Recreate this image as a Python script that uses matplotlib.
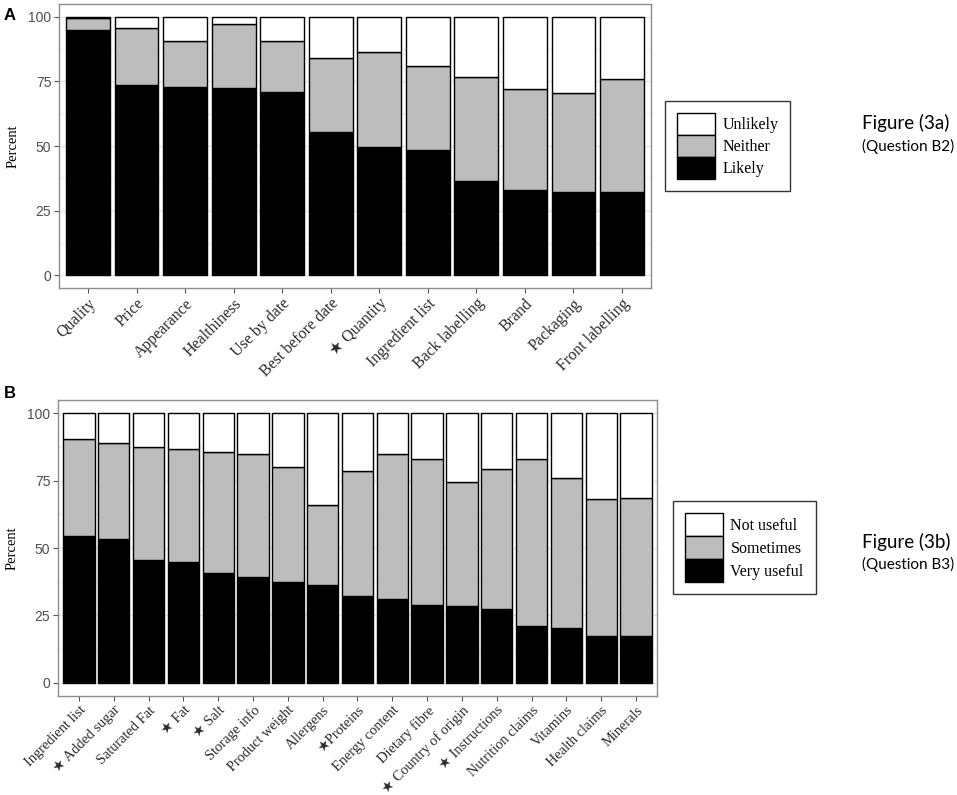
import matplotlib.pyplot as plt
from matplotlib.patches import Patch
from matplotlib.ticker import MultipleLocator
import numpy as np

# Figure 3a - question B2
cats_a = ["Quality", "Price", "Appearance", "Healthiness", "Use by date", "Best before date",
          "\u2605 Quantity", "Ingredient list", "Back labelling", "Brand", "Packaging", "Front labelling"]
likely = [95.1, 73.5, 72.9, 72.4, 70.8, 55.5, 49.6, 48.5, 36.3, 33.1, 32.1, 32.1]
neither = [4.4, 22.1, 17.9, 24.8, 20.0, 28.7, 36.9, 32.6, 40.6, 39.1, 38.5, 43.8]
unlikely = [0.5, 4.4, 9.2, 2.8, 9.2, 15.8, 13.5, 18.9, 23.1, 27.8, 29.4, 24.1]

# Figure 3b - question B3
cats_b = ["Ingredient list", "\u2605 Added sugar", "Saturated Fat", "\u2605 Fat", "\u2605 Salt", "Storage info",
          "Product weight", "Allergens", "\u2605Proteins", "Energy content", "Dietary fibre",
          "\u2605 Country of origin", "\u2605 Instructions", "Nutrition claims", "Vitamins", "Health claims", "Minerals"]
very_useful = [54.5, 53.4, 45.4, 44.9, 40.7, 39.1, 37.5, 36.4, 32.1, 31.1, 29.0, 28.4, 27.4, 20.9, 20.4, 17.2, 17.2]
sometimes = [35.9, 35.5, 42.3, 41.8, 44.9, 46.0, 42.7, 29.5, 46.7, 54.0, 54.0, 46.1, 52.1, 62.1, 55.7, 51.1, 51.4]
not_useful = [9.6, 11.1, 12.3, 13.3, 14.4, 14.9, 19.8, 34.1, 21.2, 14.9, 17.0, 25.5, 20.5, 17.0, 23.9, 31.7, 31.4]

GREY = "#bdbdbd"
SERIF = ["Liberation Serif", "DejaVu Sans"]

W, H = 957, 795
fig = plt.figure(figsize=(W / 100, H / 100), dpi=100)


def stacked_panel(rect, cats, low, mid, top, label_size):
    ax = fig.add_axes(rect)
    x = np.arange(1, len(cats) + 1)
    ax.bar(x, low, width=0.9, color="black", edgecolor="black", linewidth=1, zorder=2)
    ax.bar(x, mid, width=0.9, bottom=low, color=GREY, edgecolor="black", linewidth=1, zorder=2)
    ax.bar(x, top, width=0.9, bottom=np.add(low, mid), color="white", edgecolor="black",
           linewidth=1, zorder=2)
    ax.set_xlim(0.4, len(cats) + 0.6)
    ax.set_ylim(-5, 105)
    ax.yaxis.set_major_locator(MultipleLocator(25))
    ax.yaxis.set_minor_locator(MultipleLocator(12.5))
    ax.grid(True, which="major", axis="y", color="#e3e3e3", linewidth=0.9, zorder=0)
    ax.grid(True, which="minor", axis="y", color="#eeeeee", linewidth=0.6, zorder=0)
    ax.tick_params(axis="y", which="minor", length=0)
    ax.tick_params(axis="both", which="major", length=3.5, width=0.8, color="#555555",
                   labelcolor="#4d4d4d", labelsize=10, pad=2)
    for lab in ax.get_yticklabels():
        lab.set_family("Liberation Sans")
    ax.set_xticks(x)
    ax.set_xticklabels(cats, rotation=45, ha="right", rotation_mode="anchor",
                       family=SERIF, fontsize=label_size, color="#2b2b2b")
    for s in ax.spines.values():
        s.set_color("#8c8c8c")
        s.set_linewidth(1.0)
    ax.set_ylabel("Percent", family=SERIF, fontsize=10.5, labelpad=6)
    return ax


axA = stacked_panel([59 / W, 1 - 288 / H, (651 - 59) / W, (288 - 4) / H],
                    cats_a, likely, neither, unlikely, 11.5)
axB = stacked_panel([58 / W, 1 - 696 / H, (657 - 58) / W, (696 - 400) / H],
                    cats_b, very_useful, sometimes, not_useful, 10.4)

handles_a = [Patch(facecolor="white", edgecolor="black", label="Unlikely"),
             Patch(facecolor=GREY, edgecolor="black", label="Neither"),
             Patch(facecolor="black", edgecolor="black", label="Likely")]
handles_b = [Patch(facecolor="white", edgecolor="black", label="Not useful"),
             Patch(facecolor=GREY, edgecolor="black", label="Sometimes"),
             Patch(facecolor="black", edgecolor="black", label="Very useful")]

for handles, anchor, hh in [(handles_a, (665 / W, 1 - 101 / H), 1.75),
                            (handles_b, (673 / W, 1 - 501 / H), 1.85)]:
    leg = fig.legend(handles=handles, loc="upper left", bbox_to_anchor=anchor,
                     prop={"family": SERIF, "size": 11.5}, frameon=True, fancybox=False,
                     edgecolor="black", handlelength=2.35, handleheight=hh,
                     labelspacing=0.0, handletextpad=0.5, borderpad=0.75, borderaxespad=0)
    leg.get_frame().set_linewidth(1.0)

fig.text(862 / W, 1 - 123 / H, "Figure (3a)", family="Lato", fontsize=13.5, va="center", ha="left")
fig.text(862 / W, 1 - 146 / H, "(Question B2)", family="Lato", fontsize=11, va="center", ha="left")
fig.text(862 / W, 1 - 542 / H, "Figure (3b)", family="Lato", fontsize=13.5, va="center", ha="left")
fig.text(862 / W, 1 - 564 / H, "(Question B3)", family="Lato", fontsize=11, va="center", ha="left")

fig.text(4 / W, 1 - 16 / H, "A", family="Liberation Sans", fontweight="bold", fontsize=12, va="center")
fig.text(4 / W, 1 - 394 / H, "B", family="Liberation Sans", fontweight="bold", fontsize=12, va="center")

fig.savefig("out.png", dpi=100)
